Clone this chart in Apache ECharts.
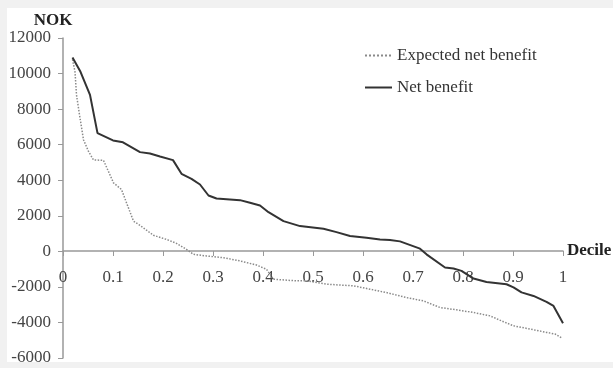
<!DOCTYPE html>
<html>
<head>
<meta charset="utf-8">
<script src="https://cdn.jsdelivr.net/npm/echarts@6/dist/echarts.min.js"></script>
<style>
html,body{margin:0;padding:0;background:#f1f1f1;width:613px;height:368px;overflow:hidden;}
#chart{position:absolute;left:7px;top:8px;width:606px;height:354px;background:#ffffff;}
</style>
</head>
<body>
<div id="chart"></div>
<script>
// Net benefit (solid)
var netX = [0.019,0.035,0.054,0.069,0.100,0.120,0.154,0.174,0.194,0.220,0.237,0.257,0.274,0.291,0.307,0.354,0.374,0.394,0.411,0.441,0.474,0.521,0.547,0.574,0.607,0.634,0.654,0.674,0.714,0.727,0.764,0.781,0.797,0.821,0.847,0.887,0.901,0.917,0.941,0.967,0.981,1.000];
var netY = [10900,10100,8800,6650,6240,6130,5580,5500,5330,5130,4360,4080,3760,3140,2970,2880,2730,2580,2200,1700,1420,1270,1080,860,770,670,640,560,150,-170,-910,-970,-1100,-1530,-1720,-1850,-2030,-2310,-2510,-2840,-3070,-4040];
// Expected net benefit (dotted)
var expX = [0.019,0.024,0.027,0.034,0.041,0.051,0.061,0.081,0.101,0.117,0.127,0.141,0.154,0.181,0.207,0.227,0.247,0.261,0.287,0.321,0.354,0.387,0.407,0.421,0.467,0.487,0.527,0.581,0.614,0.647,0.687,0.721,0.754,0.787,0.821,0.854,0.881,0.901,0.934,0.967,0.984,0.999];
var expY = [10800,10100,8800,7500,6280,5620,5140,5120,3850,3480,2730,1700,1460,900,670,450,110,-170,-260,-360,-540,-770,-1010,-1570,-1660,-1660,-1850,-1940,-2130,-2320,-2600,-2790,-3160,-3290,-3440,-3630,-3960,-4190,-4370,-4560,-4650,-4900];
var xTicks = ['0','0.1','0.2','0.3','0.4','0.5','0.6','0.7','0.8','0.9','1'];
var seriesNames = ['Expected net benefit','Net benefit'];

function pairs(xs, ys){ return xs.map(function(x,i){ return [x, ys[i]]; }); }

var chart = echarts.init(document.getElementById('chart'), null, {renderer:'canvas'});
var font = '"Liberation Serif","Times New Roman",serif';
var yMin = -6000, yMax = 12000;
var gridTop = 30, plotH = 320;
// offset so the x axis sits on the zero line (labels included)
var zeroOffset = -Math.round(plotH * (0 - yMin) / (yMax - yMin));
chart.setOption({
  animation:false,
  textStyle:{fontFamily:font},
  grid:{left:56, top:gridTop, width:500, height:plotH, containLabel:false, outerBoundsMode:'none'},
  legend:{
    orient:'vertical', left:352, top:34, itemWidth:27, itemHeight:14, itemGap:15,
    textStyle:{fontFamily:font, fontSize:17, color:'#333'},
    itemStyle:{opacity:0},
    data:seriesNames
  },
  xAxis:{
    type:'value', min:0, max:1, interval:0.1, offset:zeroOffset,
    name:'Decile', nameLocation:'end', nameGap:4,
    nameTextStyle:{fontFamily:font, fontSize:17, fontWeight:'bold', color:'#222'},
    axisLine:{onZero:false, lineStyle:{color:'#999', width:1.5}},
    axisTick:{show:true, inside:false, length:5, lineStyle:{color:'#999'}},
    axisLabel:{margin:18, fontSize:17, color:'#444', fontFamily:font,
      formatter:function(v){ var i=Math.round(v*10); return xTicks[i]; }},
    splitLine:{show:false}
  },
  yAxis:{
    type:'value', min:yMin, max:yMax, interval:2000,
    name:'NOK', nameLocation:'end', nameGap:9,
    nameTextStyle:{fontFamily:font, fontSize:17, fontWeight:'bold', color:'#222', padding:[0,20,0,0]},
    axisLine:{show:true, lineStyle:{color:'#999', width:1.5}},
    axisTick:{show:true, inside:false, length:5, lineStyle:{color:'#999'}},
    axisLabel:{margin:12, fontSize:17, color:'#444', fontFamily:font,
      formatter:function(v){ return String(v); }},
    splitLine:{show:false}
  },
  series:[
    {name:seriesNames[0], type:'line', data:pairs(expX,expY), symbol:'none',
     lineStyle:{color:'#8a8a8a', width:1.5, type:'dotted'}, itemStyle:{color:'#8a8a8a'}},
    {name:seriesNames[1], type:'line', data:pairs(netX,netY), symbol:'none',
     lineStyle:{color:'#333', width:2}, itemStyle:{color:'#333'}}
  ]
});
</script>
</body>
</html>
